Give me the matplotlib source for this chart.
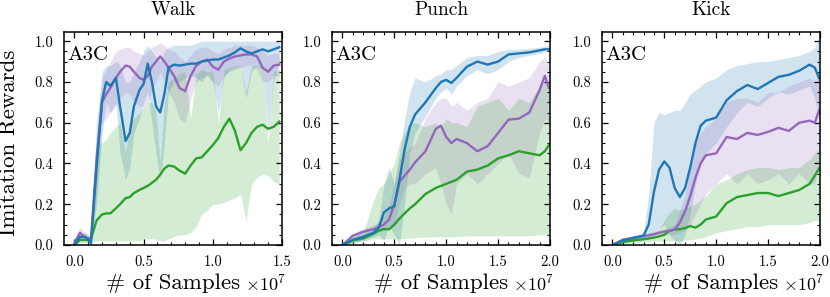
import numpy as np
import matplotlib
matplotlib.use("Agg")
import matplotlib.pyplot as plt
from matplotlib.ticker import MultipleLocator

plt.rcParams['font.family'] = ['cmr10', 'DejaVu Serif']
plt.rcParams['mathtext.fontset'] = 'cm'
plt.rcParams['axes.formatter.use_mathtext'] = True

# x in units of 1e7 samples
walk_x = [0, 0.04, 0.08, 0.12, 0.16, 0.20, 0.23, 0.26, 0.30, 0.33, 0.37, 0.40, 0.43, 0.47,
          0.50, 0.53, 0.56, 0.59, 0.62, 0.65, 0.68, 0.72, 0.76, 0.80, 0.84, 0.88, 0.92, 0.96,
          1.00, 1.04, 1.08, 1.12, 1.16, 1.20, 1.24, 1.28, 1.32, 1.36, 1.40, 1.44, 1.48]
walk_blue = [0.0, 0.04, 0.04, 0.01, 0.38, 0.71, 0.80, 0.78, 0.82, 0.68, 0.51, 0.55, 0.68, 0.76,
             0.79, 0.89, 0.80, 0.68, 0.65, 0.74, 0.87, 0.885, 0.88, 0.885, 0.89, 0.89, 0.90, 0.905,
             0.91, 0.91, 0.92, 0.93, 0.945, 0.965, 0.95, 0.94, 0.95, 0.96, 0.95, 0.96, 0.97]
walk_blue_lo = [0, 0.02, 0.02, 0, 0.2, 0.55, 0.7, 0.65, 0.7, 0.45, 0.32, 0.38, 0.55, 0.62,
                0.7, 0.75, 0.6, 0.45, 0.32, 0.5, 0.75, 0.8, 0.8, 0.82, 0.83, 0.82, 0.80, 0.84,
                0.80, 0.65, 0.82, 0.86, 0.87, 0.88, 0.72, 0.85, 0.88, 0.86, 0.55, 0.80, 0.90]
walk_blue_hi = [0.01, 0.06, 0.06, 0.03, 0.55, 0.85, 0.88, 0.88, 0.9, 0.88, 0.80, 0.80, 0.85, 0.90,
                0.95, 0.98, 0.95, 0.92, 0.90, 0.95, 0.97, 0.98, 0.98, 0.98, 0.98, 0.99, 1.0, 1.0,
                1.0, 1.0, 1.0, 1.0, 1.0, 1.0, 1.0, 1.0, 1.0, 1.0, 1.0, 1.0, 1.0]
walk_purple = [0.01, 0.06, 0.035, 0.03, 0.42, 0.70, 0.74, 0.77, 0.82, 0.85, 0.88, 0.875, 0.85, 0.82,
               0.81, 0.83, 0.875, 0.90, 0.925, 0.90, 0.87, 0.83, 0.77, 0.755, 0.83, 0.88, 0.90, 0.91,
               0.875, 0.86, 0.90, 0.915, 0.925, 0.93, 0.935, 0.935, 0.925, 0.87, 0.85, 0.88, 0.885]
walk_purple_lo = [0, 0.03, 0.02, 0.01, 0.25, 0.6, 0.62, 0.65, 0.68, 0.72, 0.75, 0.74, 0.7, 0.68,
                  0.68, 0.70, 0.76, 0.8, 0.85, 0.8, 0.75, 0.70, 0.62, 0.60, 0.72, 0.80, 0.82, 0.83,
                  0.80, 0.78, 0.83, 0.85, 0.86, 0.87, 0.88, 0.88, 0.86, 0.80, 0.80, 0.83, 0.83]
walk_purple_hi = [0.02, 0.09, 0.06, 0.05, 0.6, 0.82, 0.86, 0.90, 0.95, 0.96, 0.97, 0.97, 0.95, 0.94,
                  0.93, 0.95, 0.97, 0.98, 0.99, 0.98, 0.96, 0.95, 0.92, 0.90, 0.93, 0.96, 0.97, 0.97,
                  0.95, 0.94, 0.96, 0.97, 0.98, 0.98, 0.98, 0.98, 0.97, 0.95, 0.93, 0.94, 0.94]
walk_green = [0.0, 0.025, 0.025, 0.03, 0.12, 0.15, 0.155, 0.155, 0.18, 0.20, 0.23, 0.235, 0.255, 0.27,
              0.28, 0.29, 0.305, 0.32, 0.345, 0.375, 0.39, 0.385, 0.365, 0.35, 0.39, 0.425, 0.43, 0.46,
              0.49, 0.525, 0.58, 0.62, 0.56, 0.465, 0.50, 0.55, 0.58, 0.59, 0.57, 0.58, 0.605]
walk_green_lo = [0, 0.01, 0.01, 0.01, 0.02, 0.02, 0.02, 0.02, 0.02, 0.02, 0.02, 0.02, 0.02, 0.02,
                 0.03, 0.03, 0.03, 0.03, 0.02, 0.02, 0.03, 0.04, 0.05, 0.05, 0.06, 0.09, 0.15, 0.17,
                 0.2, 0.2, 0.21, 0.22, 0.23, 0.25, 0.12, 0.3, 0.33, 0.35, 0.34, 0.31, 0.3]
walk_green_hi = [0.01, 0.04, 0.04, 0.05, 0.5, 0.5, 0.52, 0.55, 0.58, 0.6, 0.45, 0.6, 0.62, 0.65,
                 0.68, 0.7, 0.7, 0.65, 0.4, 0.7, 0.8, 0.82, 0.84, 0.85, 0.62, 0.84, 0.86, 0.85,
                 0.85, 0.6, 0.86, 0.87, 0.88, 0.88, 0.75, 0.88, 0.88, 0.88, 0.5, 0.85, 0.86]

punch_x = [0, 0.1, 0.2, 0.3, 0.35, 0.4, 0.45, 0.5, 0.55, 0.6, 0.65, 0.7, 0.8, 0.9,
           0.95, 1.0, 1.05, 1.1, 1.2, 1.3, 1.4, 1.5, 1.6, 1.7, 1.8, 1.9, 1.95, 1.99]
punch_blue = [0.0, 0.025, 0.04, 0.06, 0.085, 0.16, 0.18, 0.19, 0.32, 0.47, 0.58, 0.64, 0.70, 0.77,
              0.80, 0.81, 0.795, 0.82, 0.875, 0.90, 0.885, 0.90, 0.935, 0.94, 0.945, 0.955, 0.96, 0.96]
punch_blue_lo = [0, 0.01, 0.02, 0.04, 0.05, 0.02, 0.1, 0.05, 0.0, 0.2, 0.45, 0.55, 0.63, 0.72,
                 0.75, 0.77, 0.74, 0.78, 0.83, 0.86, 0.84, 0.86, 0.90, 0.92, 0.93, 0.94, 0.95, 0.95]
punch_blue_hi = [0.0, 0.04, 0.06, 0.08, 0.12, 0.3, 0.38, 0.3, 0.45, 0.62, 0.75, 0.82, 0.8, 0.83,
                 0.84, 0.86, 0.86, 0.88, 0.92, 0.93, 0.93, 0.95, 0.96, 0.96, 0.965, 0.97, 0.975, 0.975]
punch_purple = [0.0, 0.045, 0.065, 0.078, 0.088, 0.10, 0.125, 0.2, 0.31, 0.34, 0.37, 0.405, 0.46, 0.57,
                0.585, 0.53, 0.50, 0.52, 0.50, 0.46, 0.485, 0.55, 0.615, 0.62, 0.65, 0.76, 0.83, 0.77]
punch_purple_lo = [0, 0.03, 0.05, 0.06, 0.07, 0.07, 0.08, 0.1, 0.2, 0.28, 0.3, 0.3, 0.35, 0.38,
                   0.3, 0.2, 0.15, 0.3, 0.35, 0.3, 0.35, 0.4, 0.45, 0.35, 0.33, 0.55, 0.62, 0.6]
punch_purple_hi = [0, 0.06, 0.08, 0.1, 0.11, 0.14, 0.2, 0.3, 0.42, 0.45, 0.48, 0.5, 0.62, 0.7,
                   0.72, 0.72, 0.68, 0.7, 0.66, 0.7, 0.72, 0.8, 0.78, 0.8, 0.82, 0.9, 0.92, 0.88]
punch_green = [0.0, 0.022, 0.032, 0.055, 0.07, 0.078, 0.077, 0.10, 0.13, 0.155, 0.18, 0.20, 0.25, 0.28,
               0.29, 0.30, 0.31, 0.32, 0.36, 0.37, 0.39, 0.425, 0.44, 0.46, 0.45, 0.44, 0.46, 0.49]
punch_green_lo = [0, 0.01, 0.02, 0.03, 0.03, 0.03, 0.03, 0.03, 0.03, 0.03, 0.035, 0.035, 0.04, 0.04,
                  0.04, 0.04, 0.04, 0.04, 0.045, 0.045, 0.045, 0.045, 0.045, 0.045, 0.045, 0.05, 0.05, 0.05]
punch_green_hi = [0, 0.04, 0.06, 0.22, 0.28, 0.3, 0.35, 0.4, 0.5, 0.55, 0.6, 0.6, 0.58, 0.6,
                  0.58, 0.62, 0.6, 0.6, 0.58, 0.68, 0.7, 0.72, 0.66, 0.72, 0.7, 0.78, 0.8, 0.78]

kick_x = [0, 0.1, 0.2, 0.3, 0.35, 0.4, 0.45, 0.5, 0.55, 0.6, 0.65, 0.7, 0.75, 0.8,
          0.85, 0.9, 1.0, 1.1, 1.2, 1.3, 1.4, 1.5, 1.6, 1.7, 1.8, 1.9, 1.95, 1.99]
kick_blue = [0.0, 0.022, 0.034, 0.046, 0.1, 0.26, 0.37, 0.41, 0.38, 0.28, 0.235, 0.28, 0.38, 0.5,
             0.585, 0.61, 0.625, 0.71, 0.755, 0.785, 0.765, 0.795, 0.825, 0.835, 0.855, 0.885, 0.87, 0.82]
kick_blue_lo = [0, 0.01, 0.02, 0.03, 0.03, 0.05, 0.08, 0.1, 0.05, 0.02, 0.0, 0.05, 0.15, 0.3,
                0.4, 0.45, 0.5, 0.58, 0.65, 0.7, 0.68, 0.72, 0.75, 0.74, 0.76, 0.78, 0.72, 0.62]
kick_blue_hi = [0, 0.03, 0.045, 0.06, 0.25, 0.6, 0.65, 0.64, 0.65, 0.66, 0.66, 0.7, 0.74, 0.76,
                0.78, 0.8, 0.82, 0.86, 0.88, 0.89, 0.9, 0.9, 0.91, 0.92, 0.93, 0.95, 0.97, 1.02]
kick_purple = [0.0, 0.026, 0.035, 0.043, 0.048, 0.053, 0.06, 0.066, 0.07, 0.076, 0.11, 0.165, 0.24, 0.33,
               0.40, 0.44, 0.45, 0.53, 0.52, 0.55, 0.54, 0.555, 0.575, 0.56, 0.60, 0.61, 0.60, 0.66]
kick_purple_lo = [0, 0.015, 0.025, 0.03, 0.035, 0.04, 0.045, 0.05, 0.05, 0.05, 0.06, 0.07, 0.1, 0.15,
                  0.2, 0.25, 0.3, 0.35, 0.3, 0.35, 0.3, 0.32, 0.35, 0.3, 0.35, 0.3, 0.3, 0.4]
kick_purple_hi = [0, 0.035, 0.045, 0.055, 0.06, 0.065, 0.075, 0.08, 0.09, 0.1, 0.17, 0.25, 0.38, 0.5,
                  0.55, 0.58, 0.62, 0.7, 0.72, 0.72, 0.7, 0.75, 0.75, 0.78, 0.8, 0.82, 0.8, 0.85]
kick_green = [0.0, 0.015, 0.022, 0.028, 0.032, 0.036, 0.042, 0.05, 0.07, 0.076, 0.078, 0.083, 0.093, 0.085,
              0.10, 0.125, 0.14, 0.205, 0.235, 0.245, 0.255, 0.255, 0.24, 0.255, 0.27, 0.30, 0.34, 0.375]
kick_green_lo = [0, 0.005, 0.01, 0.015, 0.015, 0.015, 0.02, 0.02, 0.02, 0.02, 0.02, 0.025, 0.025, 0.03,
                 0.035, 0.04, 0.06, 0.07, 0.08, 0.09, 0.09, 0.1, 0.1, 0.1, 0.1, 0.11, 0.12, 0.12]
kick_green_hi = [0, 0.025, 0.035, 0.04, 0.045, 0.055, 0.08, 0.12, 0.16, 0.18, 0.17, 0.18, 0.19, 0.2,
                 0.22, 0.24, 0.3, 0.32, 0.35, 0.37, 0.38, 0.38, 0.37, 0.38, 0.38, 0.42, 0.45, 0.47]

titles = ['Walk', 'Punch', 'Kick']
xmax = [1.5, 2.0, 2.0]
c_blue, c_purple, c_green = '#1f77b4', '#9467bd', '#2ca02c'

panels = [
    (walk_x, [(walk_blue, walk_blue_lo, walk_blue_hi, c_blue),
              (walk_purple, walk_purple_lo, walk_purple_hi, c_purple),
              (walk_green, walk_green_lo, walk_green_hi, c_green)]),
    (punch_x, [(punch_blue, punch_blue_lo, punch_blue_hi, c_blue),
               (punch_purple, punch_purple_lo, punch_purple_hi, c_purple),
               (punch_green, punch_green_lo, punch_green_hi, c_green)]),
    (kick_x, [(kick_blue, kick_blue_lo, kick_blue_hi, c_blue),
              (kick_purple, kick_purple_lo, kick_purple_hi, c_purple),
              (kick_green, kick_green_lo, kick_green_hi, c_green)]),
]

fig = plt.figure(figsize=(8.3, 2.97), dpi=100)
lefts = [64, 332, 602]
W, H = 830.0, 297.0

for i, (xs, series) in enumerate(panels):
    ax = fig.add_axes([lefts[i] / W, (H - 245) / H, 218 / W, 213 / H])
    for mean, lo, hi, col in series:
        ax.fill_between(xs, lo, hi, color=col, alpha=0.2, lw=0)
    for mean, lo, hi, col in series[::-1]:
        ax.plot(xs, mean, color=col, lw=1.7)
    ax.set_xlim(-0.05 * xmax[i], xmax[i])
    ax.set_ylim(0, 1.045)
    ax.xaxis.set_major_locator(MultipleLocator(0.5))
    ax.xaxis.set_minor_locator(MultipleLocator(0.1))
    ax.yaxis.set_major_locator(MultipleLocator(0.2))
    ax.yaxis.set_minor_locator(MultipleLocator(0.05))
    ax.xaxis.set_major_formatter(plt.FormatStrFormatter('%.1f'))
    ax.yaxis.set_major_formatter(plt.FormatStrFormatter('%.1f'))
    ax.tick_params(which='both', direction='in', top=True, right=True, labelsize=10.5, pad=7.5)
    ax.tick_params(which='major', length=4, width=0.9)
    ax.tick_params(which='minor', length=2, width=0.8)
    for s in ax.spines.values():
        s.set_linewidth(1.1)
    ax.set_title(titles[i], fontsize=14, pad=12)
    ax.set_xlabel('# of Samples', fontsize=16.5, labelpad=3)
    ax.text(0.83, -0.135, r'$\times10^{7}$', transform=ax.transAxes, ha='left', va='top', fontsize=13)
    ax.text(0.015, 0.935, 'A3C', transform=ax.transAxes, ha='left', va='top', fontsize=15)
    if i == 0:
        ax.set_ylabel('Imitation Rewards', fontsize=16.5)
        ax.yaxis.set_label_coords(-0.205, 0.48)

fig.savefig('out.png', dpi=100)
